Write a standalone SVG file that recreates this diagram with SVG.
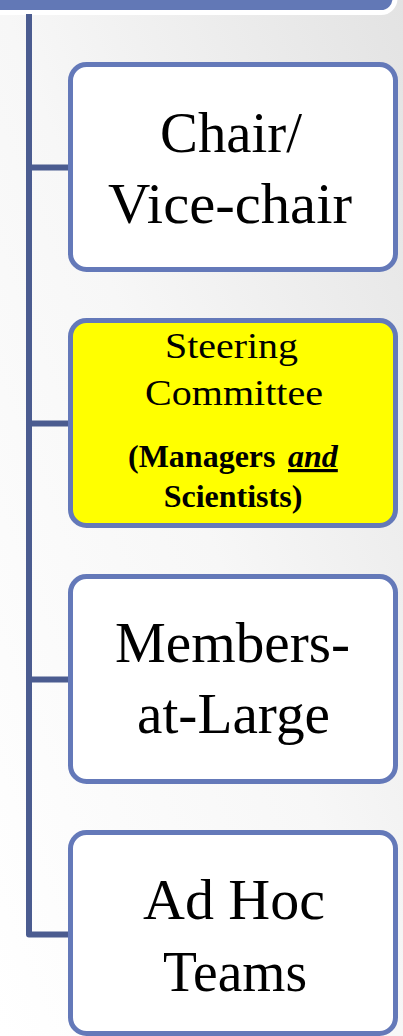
<svg xmlns="http://www.w3.org/2000/svg" width="403" height="1036" viewBox="0 0 403 1036">
<defs>
<linearGradient id="bg" x1="0" y1="1" x2="1" y2="0">
<stop offset="0" stop-color="#ffffff"/>
<stop offset="0.5" stop-color="#f7f7f7"/>
<stop offset="1" stop-color="#e3e3e3"/>
</linearGradient>
<style>
.box{stroke:#6479b9;stroke-width:5;fill:#ffffff}
.yellow{fill:#ffff00}
.big{font-family:"Liberation Serif",serif;font-size:57px;fill:#000;text-anchor:middle}
.mid{font-family:"Liberation Serif",serif;font-size:36px;fill:#000;text-anchor:middle}
.bold{font-family:"Liberation Serif",serif;font-size:32px;font-weight:bold;fill:#000}
.conn{fill:none;stroke:#4b5c90;stroke-width:6;stroke-linejoin:round}
</style>
</defs>
<rect x="0" y="0" width="403" height="1036" fill="url(#bg)"/>
<g id="top-bar">
<rect x="-20" y="-30" width="415" height="42.5" rx="14" fill="#6278b6" stroke="#ffffff" stroke-width="5"/>
</g>
<g id="connectors">
<path class="conn" d="M29,14 V934.5 H70"/>
<path class="conn" d="M29,167.5 H70"/>
<path class="conn" d="M29,423.5 H70"/>
<path class="conn" d="M29,679.5 H70"/>
</g>
<g id="chair">
<rect class="box" x="70.5" y="64.5" width="325" height="205" rx="16"/>
<text class="big" x="231" y="152" textLength="142" lengthAdjust="spacingAndGlyphs">Chair/</text>
<text class="big" x="230" y="223" textLength="244" lengthAdjust="spacingAndGlyphs">Vice-chair</text>
</g>
<g id="steering">
<rect class="box yellow" x="70.5" y="320.5" width="325" height="205" rx="16"/>
<text class="mid" x="231.5" y="358" textLength="133" lengthAdjust="spacingAndGlyphs">Steering</text>
<text class="mid" x="234" y="405" textLength="178" lengthAdjust="spacingAndGlyphs">Committee</text>
<text class="bold" x="128" y="467">(Managers <tspan x="288" font-style="italic" text-decoration="underline">and</tspan></text>
<text class="bold" x="233" y="507" text-anchor="middle">Scientists)</text>
</g>
<g id="members">
<rect class="box" x="70.5" y="576.5" width="325" height="205" rx="16"/>
<text class="big" x="232.5" y="662" textLength="235" lengthAdjust="spacingAndGlyphs">Members-</text>
<text class="big" x="233.5" y="733" textLength="193" lengthAdjust="spacingAndGlyphs">at-Large</text>
</g>
<g id="adhoc">
<rect class="box" x="70.5" y="832.5" width="325" height="201" rx="16"/>
<text class="big" x="234" y="919" textLength="182" lengthAdjust="spacingAndGlyphs">Ad Hoc</text>
<text class="big" x="235" y="991" textLength="144" lengthAdjust="spacingAndGlyphs">Teams</text>
</g>
</svg>
